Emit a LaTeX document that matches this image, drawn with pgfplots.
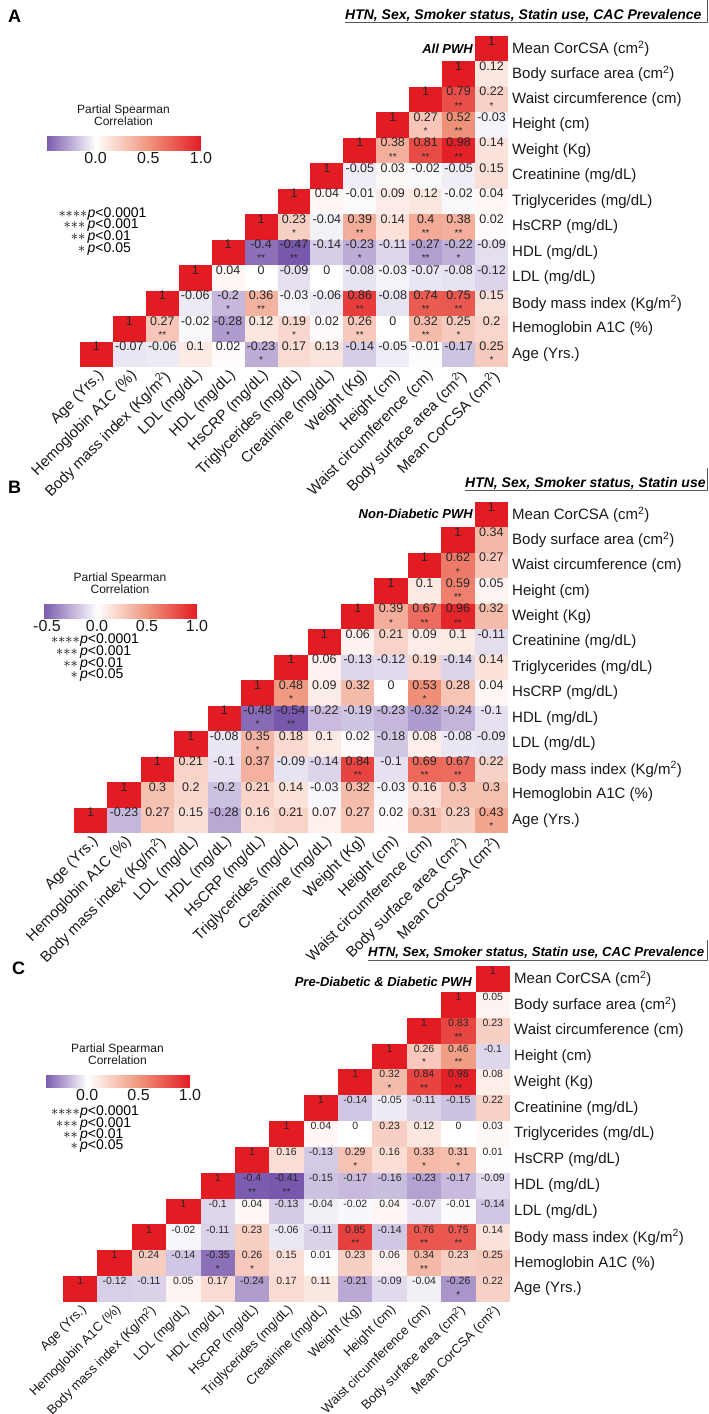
\documentclass[border=0pt]{standalone}
\usepackage{fontspec}
\setmainfont{Liberation Sans}
\usepackage{pgfplots}
\pgfplotsset{compat=1.18}
\usetikzlibrary{calc}

\newcommand\labf{\fontsize{15}{15}\selectfont}
\newcommand\labfC{\fontsize{13}{13}\selectfont}
\newcommand\numfA{\fontsize{12.5}{12.5}\selectfont}
\newcommand\numfC{\fontsize{10.5}{10.5}\selectfont}
\newcommand\starf{\fontsize{10}{10}\selectfont}
\newcommand\cbf{\fontsize{16}{16}\selectfont}
\newcommand\cbt{\fontsize{12}{11.5}\selectfont}
\newcommand\hdf{\fontsize{14}{14}\selectfont\bfseries\itshape}
\newcommand\hdfC{\fontsize{13.2}{13.2}\selectfont\bfseries\itshape}
\newcommand\sbf{\fontsize{13}{13}\selectfont\bfseries\itshape}
\newcommand\sigf{\fontsize{14}{14}\selectfont}
\newcommand\letf{\fontsize{18}{18}\selectfont\bfseries}

\pgfdeclareplotmark{cellA}{\pgfpathrectangle{\pgfqpoint{-16.46pt}{-12.73pt}}{\pgfqpoint{32.92pt}{25.46pt}}\pgfusepathqfill}
\pgfdeclareplotmark{cellB}{\pgfpathrectangle{\pgfqpoint{-16.69pt}{-12.73pt}}{\pgfqpoint{33.38pt}{25.46pt}}\pgfusepathqfill}
\pgfdeclareplotmark{cellC}{\pgfpathrectangle{\pgfqpoint{-17.19pt}{-12.92pt}}{\pgfqpoint{34.38pt}{25.85pt}}\pgfusepathqfill}

\pgfplotsset{
  hm/.style={
    scale only axis, anchor=north west,
    xmin=-0.5,xmax=12.5,ymin=-0.5,ymax=12.5,
    axis line style={draw=none},
    major tick length=0pt,
    xtick={0,1,...,12}, ytick={0,1,...,12},
    xticklabels={Age (Yrs.),Hemoglobin A1C (\%),Body mass index (Kg/m\textsuperscript{2}),LDL (mg/dL),HDL (mg/dL),HsCRP (mg/dL),Triglycerides (mg/dL),Creatinine (mg/dL),Weight (Kg),Height (cm),Waist circumference (cm),Body surface area (cm\textsuperscript{2}),Mean CorCSA (cm\textsuperscript{2})},
    yticklabels={Age (Yrs.),Hemoglobin A1C (\%),Body mass index (Kg/m\textsuperscript{2}),LDL (mg/dL),HDL (mg/dL),HsCRP (mg/dL),Triglycerides (mg/dL),Creatinine (mg/dL),Weight (Kg),Height (cm),Waist circumference (cm),Body surface area (cm\textsuperscript{2}),Mean CorCSA (cm\textsuperscript{2})},
    yticklabel pos=right,
    xticklabel style={rotate=45, anchor=north east, font=\labf, inner sep=1pt, text=black!90},
    yticklabel style={anchor=west, font=\labf, inner sep=1pt, xshift=3pt, text=black!90},
    clip=false,
    point meta max=1,
    colorbar horizontal,
  },
  cbar/.style={
    anchor=north west,
    xtick={0,0.5,1}, xticklabels={0.0,0.5,1.0},
    xticklabel style={font=\cbf, inner sep=2pt, text=black!90},
    major tick length=0pt,
    axis line style={draw=none},
    title={Partial Spearman\\Correlation},
    title style={font=\cbt, align=center, inner sep=0pt, yshift=5pt, text=black!90},
  },
  cellplot/.style={scatter, only marks, mark=#1,
    scatter/use mapped color={draw=mapped color, fill=mapped color},
    point meta=explicit},
  numplot/.style={draw=none, mark=none, point meta=explicit,
    nodes near coords={\pgfmathprintnumber[fixed,precision=2,assume math mode=true]{\pgfplotspointmeta}},
    nodes near coords style={font=#1, anchor=center, yshift=8pt, inner sep=0pt, text=black!85}},
  starplot/.style={draw=none, mark=none, point meta=explicit symbolic,
    nodes near coords,
    nodes near coords style={font=\starf, anchor=center, yshift=-6pt, inner sep=0pt, text=black!85}},
}

\begin{document}
\begin{tikzpicture}
\useasboundingbox (0pt,0pt) rectangle (709pt,-1414pt);

% ---------------- Panel A ----------------
\begin{axis}[hm, at={(80pt,-36pt)}, width=428pt, height=331pt,
  point meta min=-0.47,
  colormap={cmA}{rgb255(0cm)=(120,88,172); rgb255(0.47cm)=(255,255,255); rgb255(0.97cm)=(240,150,125); rgb255(1.47cm)=(227,28,36)},
  colorbar style={cbar, at={($(parent axis.north west)+(-34pt,-92pt)$)}, width=155pt, height=14pt},
]
\addplot[cellplot=cellA] coordinates {
(12,12)[1]
(11,11)[1] (12,11)[0.12]
(10,10)[1] (11,10)[0.79] (12,10)[0.22]
(9,9)[1] (10,9)[0.27] (11,9)[0.52] (12,9)[-0.03]
(8,8)[1] (9,8)[0.38] (10,8)[0.81] (11,8)[0.98] (12,8)[0.14]
(7,7)[1] (8,7)[-0.05] (9,7)[0.03] (10,7)[-0.02] (11,7)[-0.05] (12,7)[0.15]
(6,6)[1] (7,6)[0.04] (8,6)[-0.01] (9,6)[0.09] (10,6)[0.12] (11,6)[-0.02] (12,6)[0.04]
(5,5)[1] (6,5)[0.23] (7,5)[-0.04] (8,5)[0.39] (9,5)[0.14] (10,5)[0.4] (11,5)[0.38] (12,5)[0.02]
(4,4)[1] (5,4)[-0.4] (6,4)[-0.47] (7,4)[-0.14] (8,4)[-0.23] (9,4)[-0.11] (10,4)[-0.27] (11,4)[-0.22] (12,4)[-0.09]
(3,3)[1] (4,3)[0.04] (5,3)[0] (6,3)[-0.09] (7,3)[0] (8,3)[-0.08] (9,3)[-0.03] (10,3)[-0.07] (11,3)[-0.08] (12,3)[-0.12]
(2,2)[1] (3,2)[-0.06] (4,2)[-0.2] (5,2)[0.36] (6,2)[-0.03] (7,2)[-0.06] (8,2)[0.86] (9,2)[-0.08] (10,2)[0.74] (11,2)[0.75] (12,2)[0.15]
(1,1)[1] (2,1)[0.27] (3,1)[-0.02] (4,1)[-0.28] (5,1)[0.12] (6,1)[0.19] (7,1)[0.02] (8,1)[0.26] (9,1)[0] (10,1)[0.32] (11,1)[0.25] (12,1)[0.2]
(0,0)[1] (1,0)[-0.07] (2,0)[-0.06] (3,0)[0.1] (4,0)[0.02] (5,0)[-0.23] (6,0)[0.17] (7,0)[0.13] (8,0)[-0.14] (9,0)[-0.05] (10,0)[-0.01] (11,0)[-0.17] (12,0)[0.25]
};
\addplot[numplot=\numfA] coordinates {
(12,12)[1]
(11,11)[1] (12,11)[0.12]
(10,10)[1] (11,10)[0.79] (12,10)[0.22]
(9,9)[1] (10,9)[0.27] (11,9)[0.52] (12,9)[-0.03]
(8,8)[1] (9,8)[0.38] (10,8)[0.81] (11,8)[0.98] (12,8)[0.14]
(7,7)[1] (8,7)[-0.05] (9,7)[0.03] (10,7)[-0.02] (11,7)[-0.05] (12,7)[0.15]
(6,6)[1] (7,6)[0.04] (8,6)[-0.01] (9,6)[0.09] (10,6)[0.12] (11,6)[-0.02] (12,6)[0.04]
(5,5)[1] (6,5)[0.23] (7,5)[-0.04] (8,5)[0.39] (9,5)[0.14] (10,5)[0.4] (11,5)[0.38] (12,5)[0.02]
(4,4)[1] (5,4)[-0.4] (6,4)[-0.47] (7,4)[-0.14] (8,4)[-0.23] (9,4)[-0.11] (10,4)[-0.27] (11,4)[-0.22] (12,4)[-0.09]
(3,3)[1] (4,3)[0.04] (5,3)[0] (6,3)[-0.09] (7,3)[0] (8,3)[-0.08] (9,3)[-0.03] (10,3)[-0.07] (11,3)[-0.08] (12,3)[-0.12]
(2,2)[1] (3,2)[-0.06] (4,2)[-0.2] (5,2)[0.36] (6,2)[-0.03] (7,2)[-0.06] (8,2)[0.86] (9,2)[-0.08] (10,2)[0.74] (11,2)[0.75] (12,2)[0.15]
(1,1)[1] (2,1)[0.27] (3,1)[-0.02] (4,1)[-0.28] (5,1)[0.12] (6,1)[0.19] (7,1)[0.02] (8,1)[0.26] (9,1)[0] (10,1)[0.32] (11,1)[0.25] (12,1)[0.2]
(0,0)[1] (1,0)[-0.07] (2,0)[-0.06] (3,0)[0.1] (4,0)[0.02] (5,0)[-0.23] (6,0)[0.17] (7,0)[0.13] (8,0)[-0.14] (9,0)[-0.05] (10,0)[-0.01] (11,0)[-0.17] (12,0)[0.25]
};
\addplot[starplot] coordinates {
(11,10)[**] (12,10)[*] (10,9)[*] (11,9)[**] (9,8)[**] (10,8)[**] (11,8)[**]
(6,5)[*] (8,5)[**] (10,5)[**] (11,5)[**]
(5,4)[**] (6,4)[**] (8,4)[*] (10,4)[**] (11,4)[*]
(4,2)[*] (5,2)[**] (8,2)[**] (10,2)[**] (11,2)[**]
(2,1)[**] (4,1)[*] (6,1)[*] (8,1)[**] (10,1)[**] (11,1)[*]
(5,0)[*] (12,0)[*]
};
\end{axis}

% ---------------- Panel B ----------------
\begin{axis}[hm, at={(74pt,-502pt)}, width=434pt, height=331pt,
  point meta min=-0.54,
  colormap={cmB}{rgb255(0cm)=(120,88,172); rgb255(0.54cm)=(255,255,255); rgb255(1.04cm)=(240,150,125); rgb255(1.54cm)=(227,28,36)},
  colorbar style={cbar, at={($(parent axis.north west)+(-31pt,-94pt)$)}, width=154pt, height=14pt, xtick={-0.5,0,0.5,1}, xticklabels={-0.5,0.0,0.5,1.0}},
]
\addplot[cellplot=cellB] coordinates {
(12,12)[1]
(11,11)[1] (12,11)[0.34]
(10,10)[1] (11,10)[0.62] (12,10)[0.27]
(9,9)[1] (10,9)[0.1] (11,9)[0.59] (12,9)[0.05]
(8,8)[1] (9,8)[0.39] (10,8)[0.67] (11,8)[0.96] (12,8)[0.32]
(7,7)[1] (8,7)[0.06] (9,7)[0.21] (10,7)[0.09] (11,7)[0.1] (12,7)[-0.11]
(6,6)[1] (7,6)[0.06] (8,6)[-0.13] (9,6)[-0.12] (10,6)[0.19] (11,6)[-0.14] (12,6)[0.14]
(5,5)[1] (6,5)[0.48] (7,5)[0.09] (8,5)[0.32] (9,5)[0] (10,5)[0.53] (11,5)[0.28] (12,5)[0.04]
(4,4)[1] (5,4)[-0.48] (6,4)[-0.54] (7,4)[-0.22] (8,4)[-0.19] (9,4)[-0.23] (10,4)[-0.32] (11,4)[-0.24] (12,4)[-0.1]
(3,3)[1] (4,3)[-0.08] (5,3)[0.35] (6,3)[0.18] (7,3)[0.1] (8,3)[0.02] (9,3)[-0.18] (10,3)[0.08] (11,3)[-0.08] (12,3)[-0.09]
(2,2)[1] (3,2)[0.21] (4,2)[-0.1] (5,2)[0.37] (6,2)[-0.09] (7,2)[-0.14] (8,2)[0.84] (9,2)[-0.1] (10,2)[0.69] (11,2)[0.67] (12,2)[0.22]
(1,1)[1] (2,1)[0.3] (3,1)[0.2] (4,1)[-0.2] (5,1)[0.21] (6,1)[0.14] (7,1)[-0.03] (8,1)[0.32] (9,1)[-0.03] (10,1)[0.16] (11,1)[0.3] (12,1)[0.3]
(0,0)[1] (1,0)[-0.23] (2,0)[0.27] (3,0)[0.15] (4,0)[-0.28] (5,0)[0.16] (6,0)[0.21] (7,0)[0.07] (8,0)[0.27] (9,0)[0.02] (10,0)[0.31] (11,0)[0.23] (12,0)[0.43]
};
\addplot[numplot=\numfA] coordinates {
(12,12)[1]
(11,11)[1] (12,11)[0.34]
(10,10)[1] (11,10)[0.62] (12,10)[0.27]
(9,9)[1] (10,9)[0.1] (11,9)[0.59] (12,9)[0.05]
(8,8)[1] (9,8)[0.39] (10,8)[0.67] (11,8)[0.96] (12,8)[0.32]
(7,7)[1] (8,7)[0.06] (9,7)[0.21] (10,7)[0.09] (11,7)[0.1] (12,7)[-0.11]
(6,6)[1] (7,6)[0.06] (8,6)[-0.13] (9,6)[-0.12] (10,6)[0.19] (11,6)[-0.14] (12,6)[0.14]
(5,5)[1] (6,5)[0.48] (7,5)[0.09] (8,5)[0.32] (9,5)[0] (10,5)[0.53] (11,5)[0.28] (12,5)[0.04]
(4,4)[1] (5,4)[-0.48] (6,4)[-0.54] (7,4)[-0.22] (8,4)[-0.19] (9,4)[-0.23] (10,4)[-0.32] (11,4)[-0.24] (12,4)[-0.1]
(3,3)[1] (4,3)[-0.08] (5,3)[0.35] (6,3)[0.18] (7,3)[0.1] (8,3)[0.02] (9,3)[-0.18] (10,3)[0.08] (11,3)[-0.08] (12,3)[-0.09]
(2,2)[1] (3,2)[0.21] (4,2)[-0.1] (5,2)[0.37] (6,2)[-0.09] (7,2)[-0.14] (8,2)[0.84] (9,2)[-0.1] (10,2)[0.69] (11,2)[0.67] (12,2)[0.22]
(1,1)[1] (2,1)[0.3] (3,1)[0.2] (4,1)[-0.2] (5,1)[0.21] (6,1)[0.14] (7,1)[-0.03] (8,1)[0.32] (9,1)[-0.03] (10,1)[0.16] (11,1)[0.3] (12,1)[0.3]
(0,0)[1] (1,0)[-0.23] (2,0)[0.27] (3,0)[0.15] (4,0)[-0.28] (5,0)[0.16] (6,0)[0.21] (7,0)[0.07] (8,0)[0.27] (9,0)[0.02] (10,0)[0.31] (11,0)[0.23] (12,0)[0.43]
};
\addplot[starplot] coordinates {
(11,10)[*] (11,9)[**] (9,8)[*] (10,8)[**] (11,8)[**]
(6,5)[*] (10,5)[*] (5,4)[*] (6,4)[**] (5,3)[*]
(8,2)[**] (10,2)[**] (11,2)[**] (12,0)[*]
};
\end{axis}

% ---------------- Panel C ----------------
\begin{axis}[hm, at={(63pt,-966pt)}, width=447pt, height=336pt,
  xticklabel style={font=\labfC},
  point meta min=-0.41,
  colormap={cmC}{rgb255(0cm)=(120,88,172); rgb255(0.41cm)=(255,255,255); rgb255(0.91cm)=(240,150,125); rgb255(1.41cm)=(227,28,36)},
  colorbar style={cbar, at={($(parent axis.north west)+(-18pt,-101pt)$)}, width=145pt, height=12pt},
]
\addplot[cellplot=cellC] coordinates {
(12,12)[1]
(11,11)[1] (12,11)[0.05]
(10,10)[1] (11,10)[0.83] (12,10)[0.23]
(9,9)[1] (10,9)[0.26] (11,9)[0.46] (12,9)[-0.1]
(8,8)[1] (9,8)[0.32] (10,8)[0.84] (11,8)[0.98] (12,8)[0.08]
(7,7)[1] (8,7)[-0.14] (9,7)[-0.05] (10,7)[-0.11] (11,7)[-0.15] (12,7)[0.22]
(6,6)[1] (7,6)[0.04] (8,6)[0] (9,6)[0.23] (10,6)[0.12] (11,6)[0] (12,6)[0.03]
(5,5)[1] (6,5)[0.16] (7,5)[-0.13] (8,5)[0.29] (9,5)[0.16] (10,5)[0.33] (11,5)[0.31] (12,5)[0.01]
(4,4)[1] (5,4)[-0.4] (6,4)[-0.41] (7,4)[-0.15] (8,4)[-0.17] (9,4)[-0.16] (10,4)[-0.23] (11,4)[-0.17] (12,4)[-0.09]
(3,3)[1] (4,3)[-0.1] (5,3)[0.04] (6,3)[-0.13] (7,3)[-0.04] (8,3)[-0.02] (9,3)[0.04] (10,3)[-0.07] (11,3)[-0.01] (12,3)[-0.14]
(2,2)[1] (3,2)[-0.02] (4,2)[-0.11] (5,2)[0.23] (6,2)[-0.06] (7,2)[-0.11] (8,2)[0.85] (9,2)[-0.14] (10,2)[0.76] (11,2)[0.75] (12,2)[0.14]
(1,1)[1] (2,1)[0.24] (3,1)[-0.14] (4,1)[-0.35] (5,1)[0.26] (6,1)[0.15] (7,1)[0.01] (8,1)[0.23] (9,1)[0.06] (10,1)[0.34] (11,1)[0.23] (12,1)[0.25]
(0,0)[1] (1,0)[-0.12] (2,0)[-0.11] (3,0)[0.05] (4,0)[0.17] (5,0)[-0.24] (6,0)[0.17] (7,0)[0.11] (8,0)[-0.21] (9,0)[-0.09] (10,0)[-0.04] (11,0)[-0.26] (12,0)[0.22]
};
\addplot[numplot=\numfC] coordinates {
(12,12)[1]
(11,11)[1] (12,11)[0.05]
(10,10)[1] (11,10)[0.83] (12,10)[0.23]
(9,9)[1] (10,9)[0.26] (11,9)[0.46] (12,9)[-0.1]
(8,8)[1] (9,8)[0.32] (10,8)[0.84] (11,8)[0.98] (12,8)[0.08]
(7,7)[1] (8,7)[-0.14] (9,7)[-0.05] (10,7)[-0.11] (11,7)[-0.15] (12,7)[0.22]
(6,6)[1] (7,6)[0.04] (8,6)[0] (9,6)[0.23] (10,6)[0.12] (11,6)[0] (12,6)[0.03]
(5,5)[1] (6,5)[0.16] (7,5)[-0.13] (8,5)[0.29] (9,5)[0.16] (10,5)[0.33] (11,5)[0.31] (12,5)[0.01]
(4,4)[1] (5,4)[-0.4] (6,4)[-0.41] (7,4)[-0.15] (8,4)[-0.17] (9,4)[-0.16] (10,4)[-0.23] (11,4)[-0.17] (12,4)[-0.09]
(3,3)[1] (4,3)[-0.1] (5,3)[0.04] (6,3)[-0.13] (7,3)[-0.04] (8,3)[-0.02] (9,3)[0.04] (10,3)[-0.07] (11,3)[-0.01] (12,3)[-0.14]
(2,2)[1] (3,2)[-0.02] (4,2)[-0.11] (5,2)[0.23] (6,2)[-0.06] (7,2)[-0.11] (8,2)[0.85] (9,2)[-0.14] (10,2)[0.76] (11,2)[0.75] (12,2)[0.14]
(1,1)[1] (2,1)[0.24] (3,1)[-0.14] (4,1)[-0.35] (5,1)[0.26] (6,1)[0.15] (7,1)[0.01] (8,1)[0.23] (9,1)[0.06] (10,1)[0.34] (11,1)[0.23] (12,1)[0.25]
(0,0)[1] (1,0)[-0.12] (2,0)[-0.11] (3,0)[0.05] (4,0)[0.17] (5,0)[-0.24] (6,0)[0.17] (7,0)[0.11] (8,0)[-0.21] (9,0)[-0.09] (10,0)[-0.04] (11,0)[-0.26] (12,0)[0.22]
};
\addplot[starplot] coordinates {
(11,10)[**] (10,9)[*] (11,9)[**] (9,8)[*] (10,8)[**] (11,8)[**]
(8,5)[*] (10,5)[*] (11,5)[*] (5,4)[**] (6,4)[**]
(8,2)[**] (10,2)[**] (11,2)[**]
(4,1)[*] (5,1)[*] (10,1)[**] (11,0)[*]
};
\end{axis}

% ---------------- headers ----------------
\node[anchor=base west, font=\letf, inner sep=0pt] at (8pt,-22pt) {A};
\node[anchor=base west, font=\hdf, inner sep=0pt] at (345pt,-19pt) {HTN, Sex, Smoker status, Statin use, CAC Prevalence};
\draw[line width=1pt, black!65] (345pt,-22.5pt) -- (707.5pt,-22.5pt) -- (707.5pt,0pt);
\node[anchor=base east, font=\sbf, inner sep=0pt] at (473pt,-53.5pt) {All PWH};

\node[anchor=base west, font=\letf, inner sep=0pt] at (8pt,-493pt) {B};
\node[anchor=base west, font=\hdf, inner sep=0pt] at (465pt,-487pt) {HTN, Sex, Smoker status, Statin use};
\draw[line width=1pt, black!65] (465pt,-490.5pt) -- (707.5pt,-490.5pt) -- (707.5pt,-468pt);
\node[anchor=base east, font=\sbf, inner sep=0pt] at (473pt,-518pt) {Non-Diabetic PWH};

\node[anchor=base west, font=\letf, inner sep=0pt] at (12pt,-974pt) {C};
\node[anchor=base west, font=\hdfC, inner sep=0pt] at (368pt,-956pt) {HTN, Sex, Smoker status, Statin use, CAC Prevalence};
\draw[line width=1pt, black!65] (368pt,-960.5pt) -- (707.5pt,-960.5pt) -- (707.5pt,-940pt);
\node[anchor=base east, font=\sbf, inner sep=0pt] at (472pt,-986.5pt) {Pre-Diabetic \& Diabetic PWH};

% ---------------- significance legends ----------------
\foreach \yy/\st/\tx/\xs in {217/{\ast}{\ast}{\ast}{\ast}/0.0001/87.5, 228/{\ast}{\ast}{\ast}/0.001/85.5, 240/{\ast}{\ast}/0.01/85.5, 252/{\ast}/0.05/85.5}{
  \node[anchor=base east, font=\sigf, inner sep=0pt] at (\xs pt,-\yy pt) {$\st$};
  \node[anchor=base west, font=\sigf, inner sep=0pt] at (87.5pt,-\yy pt) {\textit{p}<\tx};
}
\foreach \yy/\st/\tx/\xs in {643/{\ast}{\ast}{\ast}{\ast}/0.0001/80, 655/{\ast}{\ast}{\ast}/0.001/78, 667/{\ast}{\ast}/0.01/78, 678/{\ast}/0.05/78}{
  \node[anchor=base east, font=\sigf, inner sep=0pt] at (\xs pt,-\yy pt) {$\st$};
  \node[anchor=base west, font=\sigf, inner sep=0pt] at (80pt,-\yy pt) {\textit{p}<\tx};
}
\foreach \yy/\st/\tx/\xs in {1115/{\ast}{\ast}{\ast}{\ast}/0.0001/80, 1127/{\ast}{\ast}{\ast}/0.001/78, 1138/{\ast}{\ast}/0.01/78, 1149/{\ast}/0.05/78}{
  \node[anchor=base east, font=\sigf, inner sep=0pt] at (\xs pt,-\yy pt) {$\st$};
  \node[anchor=base west, font=\sigf, inner sep=0pt] at (80pt,-\yy pt) {\textit{p}<\tx};
}
\end{tikzpicture}
\end{document}
